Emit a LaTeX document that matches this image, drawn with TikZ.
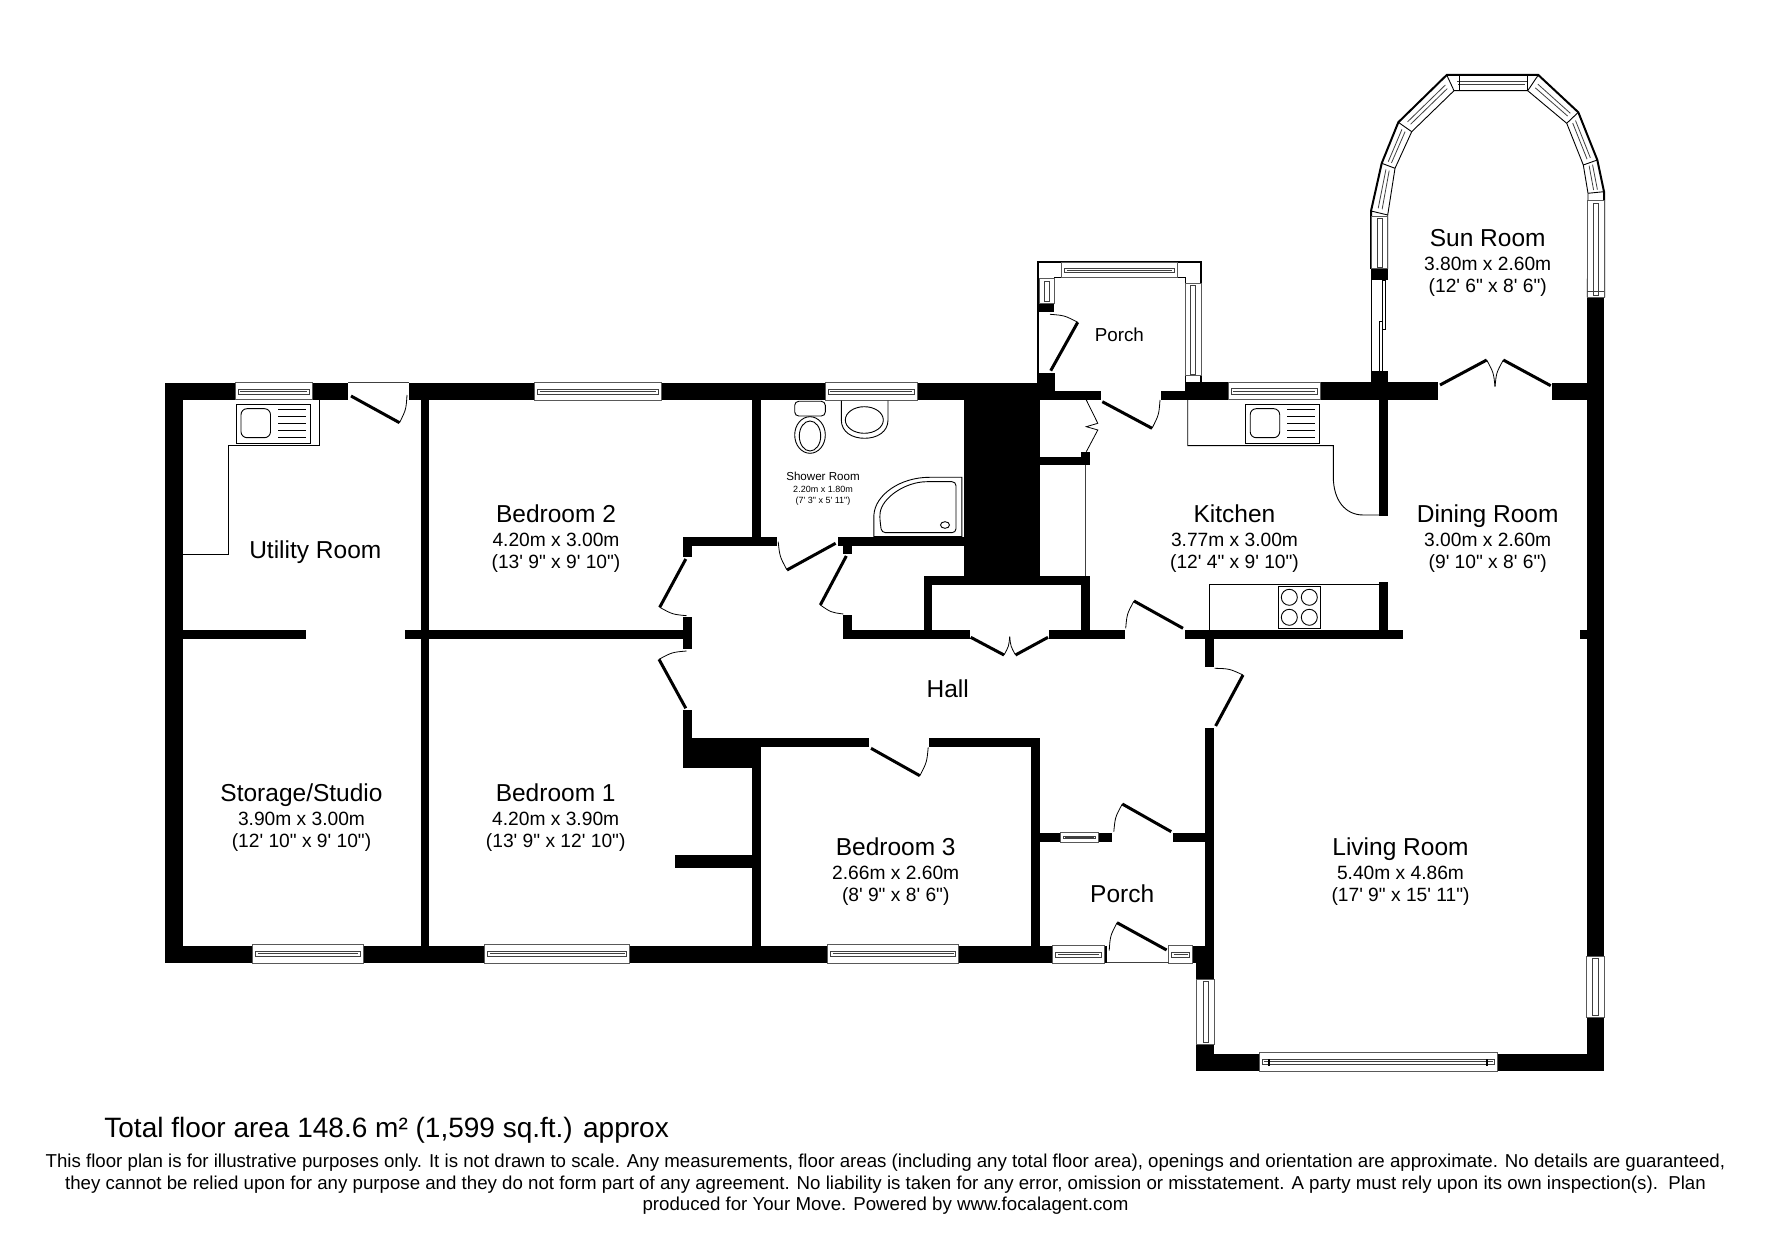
\documentclass[tikz,border=0pt]{standalone}
\usepackage{fontspec}
\usetikzlibrary{positioning,calc}
\newfontfamily\planfont{Liberation Sans}
\tikzset{wall/.style={fill=black},
	 thinwall/.style={draw=black,line width=1pt},
	 pane/.style={draw=black!65,fill=white,line width=.5pt},
	 glass/.style={draw=black!75,line width=.4pt},
	 doorleaf/.style={draw=black,line width=1.5pt},
	 doorarc/.style={draw=black,line width=.4pt},
	 fixture/.style={draw=black,line width=.45pt},
	 roomname/.style={inner sep=0pt,text height=9pt,text depth=0pt,font=\planfont\fontsize{12.25}{14}\selectfont},
	 roomsize/.style={inner sep=0pt,text height=7pt,text depth=2pt,font=\planfont\fontsize{9.6}{11}\selectfont},
	 smallname/.style={inner sep=0pt,text height=4.2pt,text depth=0pt,font=\planfont\fontsize{5.8}{7}\selectfont},
	 smallsize/.style={inner sep=0pt,text height=3.3pt,text depth=.9pt,font=\planfont\fontsize{4.5}{5}\selectfont}
	 }

\begin{document}
\begin{tikzpicture}[x=.5pt,y=-.5pt] % coordinates are pixels of the plan, y down
	\useasboundingbox (0,0) rectangle (1771,1240);
	% walls
	\foreach \xa/\ya/\xb/\yb in {165.3/382.7/348/400, 408.7/382.7/1054.5/400, 165.3/382.7/182.5/963.3, 165.3/945.7/1052.6/963.3,
		420.5/400/429.4/945.7, 182.5/629.7/306/639, 405/629.7/682.7/639,
		682.7/538/691.5/556.7, 682.7/616.7/691.5/649.3, 682.7/710/691.5/746.7,
		682.5/537.3/777/546, 752.2/400/761/538, 837.5/537.3/963.8/546, 842.5/546/852/554,
		963.8/400/1039.6/585, 1039.6/456.7/1080.5/465.3, 1080.5/452.3/1090/465.3,
		923.6/576/1090/585, 923.6/576/932.4/638.3, 1081.3/576/1090/638.7,
		843.3/629.7/969.5/638.7, 843.3/615/852/638.7, 1049/629.7/1124.5/638.7, 1184.6/629.7/1402.7/638.7,
		1379.3/399.3/1388/516, 1379.3/581.7/1388/630,
		1054.5/390.7/1100.8/400, 1160.9/390.7/1185/400, 1185/382.3/1438.3/400, 1552.3/382.7/1587.3/400,
		1371/371/1387.7/382.7, 1037.3/373.3/1054.5/382.7,
		1587.3/297.3/1604.3/1071, 1580/629.7/1587.3/638.7,
		1205/638.7/1213.7/666.7, 1205/727.7/1213.7/1053.7, 1193.3/945.7/1205/963.3, 1196/963.3/1213.7/979.3,
		1196/1044/1214/1071, 1196/1053.7/1259.3/1071, 1497.7/1053.7/1604.3/1071,
		683.3/737.7/869/746.7, 929.4/737.7/1039.6/746.7, 683.3/737.7/761/768.3, 752/768.3/761/945.7,
		1030.8/737.7/1039.6/945.7, 675.3/854.7/752/868.3,
		1039.6/832.7/1112.3/842, 1172.7/832.7/1205/842, 1104/945.7/1107.3/963.3,
		1371/269/1387.7/280, 1037.7/304.3/1054/312.3}
		\fill[wall] (\xa,\ya) rectangle (\xb,\yb);
	\draw[glass] (348,382.7) -- (408.7,382.7);
	% sun room bay
	\foreach \name/\px/\py in {o1/1371/216.7, o2/1371/211, o3/1381.7/163.3, o4/1398.3/122.3, o5/1446.7/75, o6/1538.3/75, o7/1578.3/112.3, o8/1597.3/160, o9/1604/191.7,
		i1/1387.7/216.7, i2/1387.7/215, i3/1395/168.3, i4/1411.7/131.7, i5/1454/90.7, i6/1527.7/90.7, i7/1566.7/123.3, i8/1583.3/165, i9/1588/193.3}
		\coordinate (\name) at (\px,\py);
	\draw[thinwall] (1371,269) -- (o2) -- (o3) -- (o4) -- (o5) -- (o6) -- (o7) -- (o8) -- (o9) -- (1604,297.3);
	\draw[fixture] (1387.7,269) -- (i2) -- (i3) -- (i4) -- (i5) -- (i6) -- (i7) -- (i8) -- (i9) -- (1587.3,297.3);
	\foreach \a in {2,...,9} \draw[fixture] (o\a) -- (i\a);
	\foreach \a/\b in {2/3,3/4,4/5,5/6,6/7,7/8,8/9} {
		\draw[glass] ($($(o\a)!.38!(i\a)$)!.09!($(o\b)!.38!(i\b)$)$) -- ($($(o\a)!.38!(i\a)$)!.91!($(o\b)!.38!(i\b)$)$);
		\draw[glass] ($($(o\a)!.62!(i\a)$)!.09!($(o\b)!.62!(i\b)$)$) -- ($($(o\a)!.62!(i\a)$)!.91!($(o\b)!.62!(i\b)$)$);
	}
	\draw[fixture] (1459,75) -- (1459,90.7) (1527.7,75) -- (1527.7,90.7);
	\draw[fixture] (1371,280) -- (1371,371) (1379,321.7) rectangle (1382.7,371) (1382.7,280) rectangle (1385.7,329.3);
	% front porch shell
	\draw[thinwall] (1037.7,373.3) -- (1037.7,261.7) -- (1201,261.7) -- (1201,382.3);
	\draw[fixture] (1054,304.3) -- (1054,277.7) -- (1185,277.7) -- (1185,390.7);
	% windows
	\foreach \xa/\ya/\xb/\yb in {235/382.7/312.3/400, 534.6/382.7/661/400.7, 825.3/382.7/917.1/400.7, 1228.3/382.3/1320/400,
		252.6/944.3/363/963.3, 484.8/944.3/629.5/963.3, 827.6/944.3/958.8/963.3, 1259.3/1052.7/1497.7/1071,
		1052.6/945.7/1104/963.3, 1168.6/945.7/1192.6/963.3, 1060/832.7/1098.5/842, 1061.7/262.7/1177.3/277.7} {
		\draw[pane] (\xa,\ya) rectangle (\xb,\yb);
		\draw[glass] ({\xa+3},{\ya+.36*(\yb-\ya)}) rectangle ({\xb-3},{\ya+.66*(\yb-\ya)});
		\draw[glass] ({\xa+5},{\ya+.5*(\yb-\ya)}) -- ({\xb-5},{\ya+.5*(\yb-\ya)});
	}
	\foreach \xa/\ya/\xb/\yb in {1196.7/979.3/1214.7/1044, 1586/956.7/1604.7/1017.3, 1587.3/201/1604/297.3, 1371/216.7/1387.7/269,
		1039.3/279/1054/303.3, 1185/283.3/1201/376} {
		\draw[pane] (\xa,\ya) rectangle (\xb,\yb);
		\draw[glass] ({\xa+.36*(\xb-\xa)},{\ya+2}) rectangle ({\xa+.66*(\xb-\xa)},{\yb-2});
	}
	\draw[glass] (1587.3,291.7) -- (1604,291.7);
	\draw[glass] (1107.3,962.3) -- (1168.6,962.3);
	\draw[thinwall] (1269.3,1059) -- (1269.3,1065.7) (1486.7,1059) -- (1486.7,1065.7);
	% doors: hinge, tip, end of swing
	\foreach \hx/\hy/\tx/\ty/\ex/\ey in {351/396/399.5/422.7/407/395, 685.8/559/659.7/607.3/686.5/615.7, 685.8/708.3/659/659.3/686.5/651,
		835.6/543.3/787/570/778.2/541.7, 846.3/556/820.3/605/843.3/614, 1183/628.3/1134/601/1125.7/628.3,
		1215.6/726/1243/675/1214.5/668.3, 871/748.3/919.8/775.7/928.2/747.3, 1171.2/831.7/1122.3/804/1113.8/831.7,
		1166.6/950/1117/922.7/1109.2/950.7, 1102.3/401.7/1152/428.3/1160/400, 1050.7/370.7/1077.7/322.3/1050/314.3,
		1440/385/1486.7/360/1495/386.7, 1550.7/385.7/1503.3/360/1495/386.7,
		970.7/637.3/1004/655/1009.7/636.7, 1048/637.3/1015.5/655/1009.7/636.7} {
		\coordinate (h) at (\hx,\hy); \coordinate (t) at (\tx,\ty); \coordinate (e) at (\ex,\ey);
		\draw[doorleaf] (h) -- (t);
		\draw[doorarc] (t) .. controls ($0.527*(t)+0.527*(e)-0.054*(h)$) .. (e);
	}
	\draw[doorarc] (1086.3,400) -- (1097.8,423.3) -- (1086.3,426.7) -- (1097.8,430) -- (1086.3,451.7);
	% kitchen and utility fittings
	\draw[fixture] (319.5,400) -- (319.5,445.7) -- (228.4,445.7) -- (228.4,554.3) -- (182.5,554.3);
	\draw[fixture] (1187.7,400) -- (1187.7,445.7) -- (1333.3,445.7) -- (1333.3,476.7) .. controls (1333.3,500) and (1345,515) .. (1363.3,515) -- (1379.3,515);
	\draw[fixture] (1209.3,630) -- (1209.3,584) -- (1379.3,584);
	\draw[glass] (1085,465.3) -- (1085,576);
	\foreach \sx in {236.5,1245.7} {
		\draw[fixture] (\sx,404.3) rectangle ({\sx+74},443.5);
		\draw[fixture,rounded corners=3pt] ({\sx+4.5},408.7) rectangle ({\sx+34},437.7);
		\foreach \dy in {409.5,416.5,423.5,430.7,437.7} \draw[fixture] ({\sx+41.5},\dy) -- ({\sx+69},\dy);
	}
	\draw[fixture] (1278.3,586.7) rectangle (1320.7,628.3);
	\foreach \cx/\cy in {1289.3/597.3, 1309.3/597.3, 1289.3/617.3, 1309.3/617.3} \draw[fixture] (\cx,\cy) circle [radius=8];
	% shower room fittings
	\draw[fixture,rounded corners=2pt] (794.7,401.3) rectangle (825.3,416);
	\draw[fixture] (810,435) ellipse [x radius=15.3, y radius=18.3];
	\draw[fixture] (810,436) ellipse [x radius=10.7, y radius=15];
	\draw[fixture] (841.3,400.7) -- (841.3,420) .. controls (841.3,432) and (852,438.3) .. (864.6,438.3) .. controls (877,438.3) and (888,432) .. (888,420) -- (888,400.7);
	\draw[fixture] (864.3,420) ellipse [x radius=19, y radius=13.3];
	\draw[fixture] (961.9,477.3) -- (961.9,536.7) -- (873.9,536.7) -- (873.9,515) .. controls (875,495) and (900,477.3) .. (929.4,477.3) -- cycle;
	\draw[fixture,rounded corners=2pt] (956,481.7) -- (956,532.7) -- (881.5,532.7) -- (879.6,516.7) .. controls (882,498) and (905,481.7) .. (931,481.7) -- cycle;
	\draw[fixture] (945,525) ellipse [x radius=4.5, y radius=3.3];
	% room labels
	\node[roomname] (utility) at (315.3,550) {Utility Room};
	\node[roomname] (bed2) at (556,514) {Bedroom 2};
	\node[roomsize] (bed2m) [below=4.5pt of bed2] {4.20m x 3.00m};
	\node[roomsize] (bed2f) [below=1.4pt of bed2m] {(13' 9" x 9' 10")};
	\node[smallname] (shower) at (823,476) {Shower Room};
	\node[smallsize] (showerm) [below=2.35pt of shower] {2.20m x 1.80m};
	\node[smallsize] (showerf) [below=1pt of showerm] {(7' 3" x 5' 11")};
	\node[roomname] (kitchen) at (1234.5,514) {Kitchen};
	\node[roomsize] (kitchenm) [below=4.5pt of kitchen] {3.77m x 3.00m};
	\node[roomsize] (kitchenf) [below=1.4pt of kitchenm] {(12' 4" x 9' 10")};
	\node[roomname] (dining) at (1487.7,514) {Dining Room};
	\node[roomsize] (diningm) [below=4.5pt of dining] {3.00m x 2.60m};
	\node[roomsize] (diningf) [below=1.4pt of diningm] {(9' 10" x 8' 6")};
	\node[roomname] (sun) at (1487.7,237.7) {Sun Room};
	\node[roomsize] (sunm) [below=4.5pt of sun] {3.80m x 2.60m};
	\node[roomsize] (sunf) [below=1.4pt of sunm] {(12' 6" x 8' 6")};
	\node[roomname,font=\planfont\fontsize{9.4}{11}\selectfont] (porchb) at (1119.3,332.5) {Porch};
	\node[roomname] (hall) at (947.7,688) {Hall};
	\node[roomname] (storage) at (301.5,792.7) {Storage/Studio};
	\node[roomsize] (storagem) [below=4.5pt of storage] {3.90m x 3.00m};
	\node[roomsize] (storagef) [below=1.4pt of storagem] {(12' 10" x 9' 10")};
	\node[roomname] (bed1) at (555.7,792.7) {Bedroom 1};
	\node[roomsize] (bed1m) [below=4.5pt of bed1] {4.20m x 3.90m};
	\node[roomsize] (bed1f) [below=1.4pt of bed1m] {(13' 9" x 12' 10")};
	\node[roomname] (bed3) at (895.7,846.7) {Bedroom 3};
	\node[roomsize] (bed3m) [below=4.5pt of bed3] {2.66m x 2.60m};
	\node[roomsize] (bed3f) [below=1.4pt of bed3m] {(8' 9" x 8' 6")};
	\node[roomname] (porcha) at (1122.2,893.3) {Porch};
	\node[roomname] (living) at (1400.5,846.7) {Living Room};
	\node[roomsize] (livingm) [below=4.5pt of living] {5.40m x 4.86m};
	\node[roomsize] (livingf) [below=1.4pt of livingm] {(17' 9" x 15' 11")};
	% area and small print
	\node[inner sep=0pt,anchor=west,font=\planfont\fontsize{14}{16}\selectfont] (total) at (104,1130) {Total floor area 148.6 m² (1,599 sq.ft.) approx};
	\node[inner sep=0pt,align=center,font=\planfont\fontsize{9.34}{10.75}\selectfont] (notice) at (885.5,1184.5) {This floor plan is for illustrative purposes only. It is not drawn to scale. Any measurements, floor areas (including any total floor area), openings and orientation are approximate. No details are guaranteed,\\they cannot be relied upon for any purpose and they do not form part of any agreement. No liability is taken for any error, omission or misstatement. A party must rely upon its own inspection(s).\ \ Plan\\produced for Your Move. Powered by www.focalagent.com};
\end{tikzpicture}
\end{document}
